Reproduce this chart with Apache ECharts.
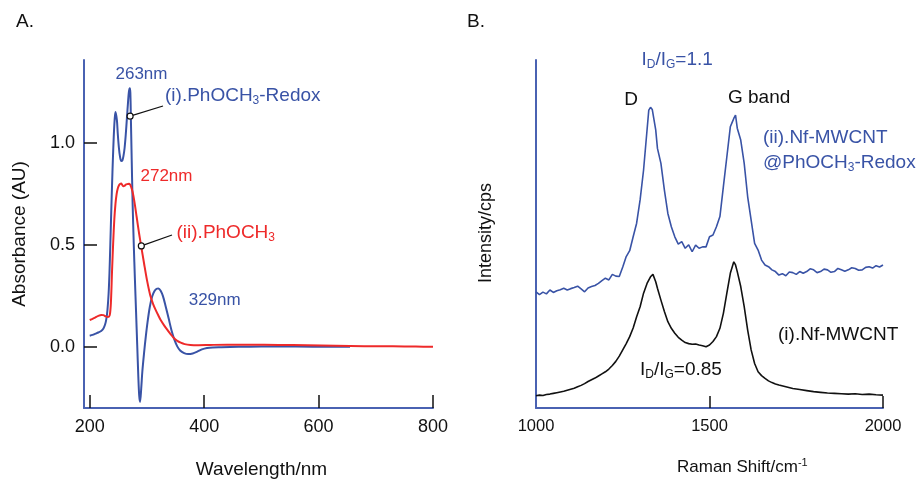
<!DOCTYPE html>
<html><head><meta charset="utf-8">
<script src="https://cdn.jsdelivr.net/npm/echarts@6/dist/echarts.min.js"></script>
<style>html,body{margin:0;padding:0;background:#fff}#c{width:921px;height:479px}</style>
</head><body><div id="c"></div>
<script>
const FONT = 'Liberation Sans, Arial, Helvetica, sans-serif';
const BLUE = '#3953a6';
const RED = '#ee2a2a';
const AXIS_BLUE = '#4a62b2';

// ---- Panel A: UV-vis ----
const uvXTicks = [200, 400, 600, 800];
const uvYTicks = [0, 0.5, 1.0];
const uvRedox = [[200,0.054],[205,0.058],[210,0.064],[215,0.070],[220,0.077],[224,0.090],[227,0.110],[229,0.135],[231,0.180],[233,0.260],[234.5,0.360],[236,0.500],[237.5,0.650],[239,0.790],[240.5,0.920],[242,1.030],[243.5,1.110],[245,1.150],[246,1.148],[247.5,1.110],[249,1.045],[251,0.975],[253,0.930],[255,0.910],[257,0.912],[259,0.935],[261,0.975],[263,1.040],[265,1.120],[267,1.200],[268.5,1.250],[270,1.267],[271,1.245],[272,1.110],[273,0.970],[274,0.830],[275,0.700],[277,0.500],[279,0.330],[281,0.170],[283,0.010],[285,-0.150],[286.5,-0.240],[288,-0.270],[290,-0.205],[292,-0.120],[295,-0.030],[298,0.050],[301,0.120],[305,0.195],[309,0.245],[313,0.272],[317,0.284],[320,0.286],[324,0.275],[328,0.248],[333,0.195],[338,0.138],[343,0.080],[348,0.035],[353,0.002],[358,-0.018],[365,-0.031],[372,-0.036],[380,-0.033],[388,-0.024],[396,-0.013],[405,-0.006],[415,-0.003],[430,-0.002],[460,0.000],[500,0.001],[560,0.001],[620,0.000],[655,0.000]];
const uvPh = [[200,0.131],[205,0.137],[210,0.144],[215,0.151],[220,0.156],[224,0.155],[228,0.149],[232,0.146],[235,0.155],[237,0.215],[239,0.370],[241,0.510],[243,0.625],[245,0.700],[247,0.748],[249,0.775],[251,0.790],[253,0.797],[255,0.800],[257,0.792],[259,0.787],[261,0.789],[263,0.794],[266,0.797],[269,0.799],[271,0.793],[273,0.778],[275,0.758],[278,0.712],[282,0.637],[286,0.560],[290,0.492],[295,0.408],[300,0.328],[306,0.250],[311,0.208],[315,0.182],[320,0.153],[324,0.131],[330,0.105],[336,0.082],[342,0.060],[347,0.043],[353,0.029],[359,0.020],[366,0.013],[376,0.009],[390,0.008],[410,0.009],[440,0.010],[480,0.010],[530,0.009],[580,0.007],[630,0.005],[680,0.003],[730,0.002],[770,0.001],[800,0.000]];
const annotRedox = [270.6, 1.13];
const annotPh = [290.2, 0.494];

// ---- Panel B: Raman ----
const ramanTicks = [1500, 2000];
const ramanModified = [[1000,33.4],[1010,32.6],[1020,33.3],[1030,32.8],[1040,33.9],[1050,33.2],[1060,33.7],[1070,34.0],[1080,34.4],[1090,33.9],[1100,34.3],[1110,34.6],[1120,35.0],[1130,34.2],[1140,33.4],[1150,34.5],[1160,34.9],[1170,35.2],[1180,35.8],[1190,36.6],[1200,37.3],[1210,36.8],[1220,38.4],[1230,37.9],[1240,37.8],[1250,40.5],[1260,43.5],[1270,45.2],[1280,49.2],[1290,53.1],[1300,59.8],[1310,68.4],[1320,79.9],[1325,85.6],[1330,86.4],[1335,85.8],[1340,86.1],[1345,79.9],[1350,74.6],[1360,70.3],[1370,62.6],[1380,55.9],[1390,52.1],[1400,49.2],[1410,47.1],[1420,47.8],[1430,45.9],[1440,46.9],[1450,44.9],[1460,46.8],[1470,45.9],[1480,46.3],[1490,46.3],[1500,49.2],[1510,49.7],[1520,52.1],[1530,55.0],[1540,63.6],[1550,72.2],[1560,80.8],[1565,82.0],[1570,83.2],[1575,84.2],[1580,80.4],[1590,77.0],[1600,70.3],[1610,60.7],[1620,54.0],[1630,47.3],[1640,45.4],[1650,42.5],[1660,41.1],[1670,40.6],[1680,39.7],[1690,39.2],[1700,38.2],[1710,38.6],[1720,38.0],[1730,39.1],[1740,38.9],[1750,38.4],[1760,39.2],[1770,38.7],[1780,39.2],[1790,40.0],[1800,39.7],[1810,38.9],[1820,39.2],[1830,39.9],[1840,39.7],[1850,39.0],[1860,39.2],[1870,40.1],[1880,39.7],[1890,39.3],[1900,39.7],[1910,40.3],[1920,40.1],[1930,39.6],[1940,39.7],[1950,40.4],[1960,40.6],[1970,40.2],[1980,40.9],[1990,40.5],[2000,41.1]];
const ramanBare = [[1000,3.5],[1010,3.7],[1020,3.6],[1030,3.9],[1040,4.0],[1050,4.2],[1060,4.4],[1070,4.6],[1080,4.8],[1090,5.1],[1100,5.4],[1110,5.7],[1120,6.1],[1130,6.5],[1140,7.0],[1150,7.6],[1160,8.1],[1170,8.6],[1180,9.2],[1190,9.8],[1200,10.4],[1210,11.2],[1220,12.2],[1230,13.4],[1240,14.9],[1250,16.7],[1260,18.5],[1270,20.5],[1280,23.0],[1290,26.2],[1300,29.1],[1310,33.0],[1320,35.8],[1330,37.7],[1337,38.4],[1345,36.3],[1350,34.4],[1360,31.0],[1370,27.7],[1380,24.8],[1390,22.9],[1400,21.5],[1410,20.3],[1420,19.5],[1430,18.8],[1440,18.5],[1450,18.3],[1460,18.4],[1470,18.1],[1480,17.9],[1490,17.6],[1500,18.1],[1510,19.1],[1520,20.5],[1530,22.9],[1540,27.2],[1550,33.0],[1560,38.7],[1570,42.0],[1575,41.1],[1580,39.2],[1590,34.9],[1600,29.1],[1610,22.4],[1620,16.7],[1630,12.8],[1640,10.4],[1650,9.3],[1660,8.5],[1670,7.8],[1680,7.3],[1690,6.9],[1700,6.6],[1720,6.1],[1740,5.6],[1760,5.3],[1780,5.0],[1800,4.7],[1820,4.5],[1840,4.3],[1860,4.2],[1880,4.1],[1900,4.0],[1920,4.1],[1940,3.9],[1960,4.0],[1980,3.8],[2000,3.7]];

const chart = echarts.init(document.getElementById('c'), null, {renderer: 'canvas'});

function axisLine(){ return {show: true, onZero: false, lineStyle: {color: AXIS_BLUE, width: 2}}; }

const option = {
  animation: false,
  backgroundColor: '#fff',
  textStyle: {fontFamily: FONT},
  grid: [
    {left: 84, top: 60, width: 349, height: 348, containLabel: false},
    {left: 536, top: 60, width: 347, height: 348, containLabel: false}
  ],
  xAxis: [
    {type: 'value', gridIndex: 0, min: 190, max: 800,
     axisLine: axisLine(),
     axisTick: {show: true, inside: true, length: 13, lineStyle: {color: '#111', width: 1.5}, customValues: uvXTicks},
     axisLabel: {customValues: uvXTicks, color: '#111', fontSize: 18, fontFamily: FONT, margin: 10,
                 formatter: v => String(Math.round(v))},
     splitLine: {show: false}},
    {type: 'value', gridIndex: 1, min: 1000, max: 2000, interval: 500,
     axisLine: axisLine(),
     axisTick: {show: true, inside: true, length: 12, lineStyle: {color: '#111', width: 1.5}, customValues: ramanTicks},
     axisLabel: {color: '#111', fontSize: 16.5, fontFamily: FONT, margin: 10,
                 formatter: v => String(Math.round(v))},
     splitLine: {show: false}}
  ],
  yAxis: [
    {type: 'value', gridIndex: 0, min: -0.3, max: 1.405,
     axisLine: axisLine(),
     axisTick: {show: true, inside: true, length: 13, lineStyle: {color: '#111', width: 1.5}, customValues: uvYTicks},
     axisLabel: {customValues: uvYTicks, color: '#111', fontSize: 18, fontFamily: FONT, margin: 9,
                 formatter: v => Number(v).toFixed(1)},
     splitLine: {show: false}},
    {type: 'value', gridIndex: 1, min: 0, max: 100,
     axisLine: axisLine(), axisTick: {show: false}, axisLabel: {show: false}, splitLine: {show: false}}
  ],
  series: [
    {type: 'line', xAxisIndex: 0, yAxisIndex: 0, data: uvRedox, showSymbol: false, smooth: 0.3,
     lineStyle: {color: BLUE, width: 2}, z: 2},
    {type: 'line', xAxisIndex: 0, yAxisIndex: 0, data: uvPh, showSymbol: false, smooth: 0.3,
     lineStyle: {color: RED, width: 2}, z: 3},
    {type: 'line', xAxisIndex: 1, yAxisIndex: 1, data: ramanModified, showSymbol: false,
     lineStyle: {color: BLUE, width: 1.6}},
    {type: 'line', xAxisIndex: 1, yAxisIndex: 1, data: ramanBare, showSymbol: false,
     lineStyle: {color: '#111', width: 1.6}}
  ]
};
chart.setOption(option);

function txt(x, y, text, opts) {
  opts = opts || {};
  const size = opts.size || 19;
  const color = opts.color || '#111';
  const sub = {fontSize: Math.round(size * 0.62), fontFamily: FONT, fill: color, verticalAlign: 'bottom', lineHeight: Math.round(size*0.62)};
  const sup = {fontSize: Math.round(size * 0.62), fontFamily: FONT, fill: color, verticalAlign: 'top', lineHeight: Math.round(size*0.62)};
  return {
    type: 'text', x: x, y: y, rotation: opts.rotation || 0, z: 100,
    style: {
      text: text, fontSize: size, fontFamily: FONT, fill: color,
      textAlign: opts.align || 'left', align: opts.align || 'left',
      textVerticalAlign: 'middle', verticalAlign: 'middle',
      lineHeight: Math.round(size * 1.15),
      rich: {
        n: {fontSize: size, fontFamily: FONT, fill: color, lineHeight: Math.round(size*1.15)},
        s: sub, p: sup
      }
    }
  };
}

const pR = chart.convertToPixel({gridIndex: 0}, annotRedox);
const pP = chart.convertToPixel({gridIndex: 0}, annotPh);

const graphics = [
  txt(16, 22, 'A.', {size: 19}),
  txt(467, 22, 'B.', {size: 19}),
  txt(141.5, 74, '263nm', {size: 17, color: BLUE, align: 'center'}),
  txt(165, 96, '{n|(i).PhOCH}{s|3}{n|-Redox}', {size: 19, color: BLUE}),
  txt(166.5, 176, '272nm', {size: 17, color: RED, align: 'center'}),
  txt(176.5, 233, '{n|(ii).PhOCH}{s|3}', {size: 19, color: RED}),
  txt(214.7, 300, '329nm', {size: 17, color: BLUE, align: 'center'}),
  txt(20, 234, 'Absorbance (AU)', {size: 19, align: 'center', rotation: Math.PI / 2}),
  txt(261.5, 470, 'Wavelength/nm', {size: 19, align: 'center'}),
  txt(486, 233, 'Intensity/cps', {size: 18, align: 'center', rotation: Math.PI / 2}),
  txt(677, 467, '{n|Raman Shift/cm}{p|-1}', {size: 17}),
  txt(641.5, 60, '{n|I}{s|D}{n|/I}{s|G}{n|=1.1}', {size: 19, color: BLUE}),
  txt(631, 100, 'D', {size: 19, align: 'center'}),
  txt(728, 97.5, 'G band', {size: 19}),
  txt(763, 138, '(ii).Nf-MWCNT', {size: 19, color: BLUE}),
  txt(763, 163, '{n|@PhOCH}{s|3}{n|-Redox}', {size: 19, color: BLUE}),
  txt(778, 335, '(i).Nf-MWCNT', {size: 19}),
  txt(640, 370, '{n|I}{s|D}{n|/I}{s|G}{n|=0.85}', {size: 19}),
  {type: 'line', z: 90, shape: {x1: pR[0], y1: pR[1], x2: 163, y2: 106}, style: {stroke: '#111', lineWidth: 1.3}},
  {type: 'circle', z: 91, shape: {cx: pR[0], cy: pR[1], r: 3}, style: {fill: '#fff', stroke: '#111', lineWidth: 1.2}},
  {type: 'line', z: 90, shape: {x1: pP[0], y1: pP[1], x2: 172, y2: 235}, style: {stroke: '#111', lineWidth: 1.3}},
  {type: 'circle', z: 91, shape: {cx: pP[0], cy: pP[1], r: 3}, style: {fill: '#fff', stroke: '#111', lineWidth: 1.2}}
];
chart.setOption({graphic: graphics});
</script>
</body></html>
